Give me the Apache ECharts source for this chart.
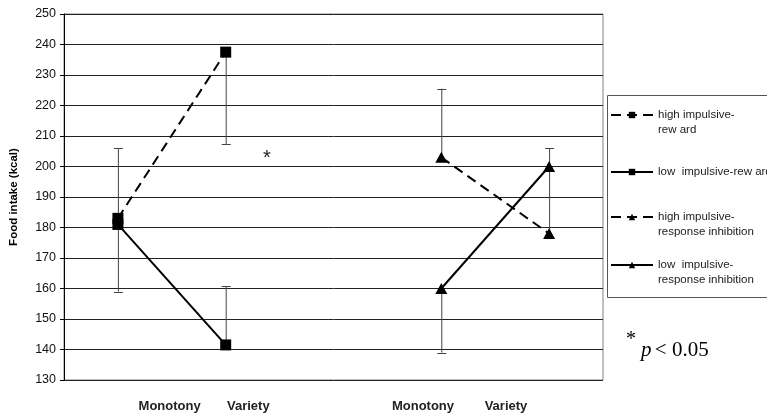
<!DOCTYPE html>
<html><head><meta charset="utf-8">
<script src="https://cdn.jsdelivr.net/npm/echarts@6/dist/echarts.min.js"></script>
<style>html,body{margin:0;padding:0;background:#fff}#c{width:767px;height:415px}</style>
</head><body><div id="c"></div>
<script>
// ---- data ----
const categories = ['Monotony-1', 'Variety-1', 'gap', 'Monotony-2', 'Variety-2'];
const xLabels = ['Monotony', 'Variety', 'Monotony', 'Variety'];
const yMin = 130, yMax = 250, yStep = 10;
const seriesNames = ['high impulsive-reward', 'low impulsive-reward', 'high impulsive-response inhibition', 'low impulsive-response inhibition'];
const hiReward = [183, 237.5, null, null, null];
const loReward = [181, 141.5, null, null, null];
const hiRI = [null, null, null, 203, 178];
const loRI = [null, null, null, 160, 200];
// one-sided error bar end values
const hiRewardErr = [206, 207.3, null, null, null];
const loRewardErr = [159, 160.8, null, null, null];
const hiRIErr = [null, null, null, 225.5, 206];
const loRIErr = [null, null, null, 139, null];

// ---- presentation ----
const legendText = {
  'high impulsive-reward': '\nhigh impulsive-\nrew ard',
  'low impulsive-reward': 'low  impulsive-rew ard',
  'high impulsive-response inhibition': '\nhigh impulsive-\nresponse inhibition',
  'low impulsive-response inhibition': '\nlow  impulsive-\nresponse inhibition'
};
const labelPos = [0.98, 1.71, 3.33, 4.1];

function errData(vals, ends) {
  const out = [];
  vals.forEach((v, i) => { if (v != null && ends[i] != null) out.push([i, v, ends[i]]); });
  return out;
}
function errRender(params, api) {
  const i = api.value(0), v = api.value(1), e = api.value(2);
  const p1 = api.coord([i, v]), p2 = api.coord([i, e]);
  const st = { stroke: '#444', lineWidth: 1 };
  return { type: 'group', children: [
    { type: 'line', shape: { x1: p1[0] + 0.5, y1: p1[1], x2: p2[0] + 0.5, y2: p2[1] }, style: st },
    { type: 'line', shape: { x1: p2[0] - 4, y1: Math.round(p2[1]) + 0.5, x2: p2[0] + 5, y2: Math.round(p2[1]) + 0.5 }, style: st }
  ]};
}
const errSeries = [[hiReward, hiRewardErr], [loReward, loRewardErr], [hiRI, hiRIErr], [loRI, loRIErr]].map(([v, e]) => ({
  type: 'custom', renderItem: errRender, data: errData(v, e), z: 1, silent: true,
  encode: { x: 0, y: [1, 2] }
}));

const dashed = [10, 6];
function lineSeries(name, data, symbol, size, dash) {
  return {
    name, type: 'line', data, symbol, symbolSize: size, z: 3,
    lineStyle: { color: '#000', width: 2, type: dash ? dashed : 'solid' },
    itemStyle: { color: '#000' }, connectNulls: false, animation: false
  };
}

const LH = 15;
const legendTargets = [115, 172, 217, 265];
const legends = seriesNames.map((n, k) => {
  const lines = legendText[n].split('\n').length;
  return {
    data: [n], left: 610, top: legendTargets[k] - lines * LH / 2, padding: 0,
    itemWidth: 42, itemHeight: 8, selectedMode: false,
    formatter: (name) => legendText[name],
    textStyle: { fontSize: 11.5, fontFamily: 'Arial', color: '#222', lineHeight: LH }
  };
});

const chart = echarts.init(document.getElementById('c'), null, { renderer: 'canvas' });
chart.setOption({
  animation: false,
  backgroundColor: '#fff',
  grid: { left: 61, right: 164, top: 14, bottom: 35, show: true, borderColor: '#808080', borderWidth: 1 },
  xAxis: [{
    type: 'category', data: categories, boundaryGap: true,
    axisLine: { show: false }, axisTick: { show: false }, axisLabel: { show: false }, splitLine: { show: false }
  }, {
    type: 'value', min: 0, max: 5, position: 'bottom', offset: 0,
    axisLine: { show: false }, axisTick: { show: false }, splitLine: { show: false },
    axisLabel: {
      customValues: labelPos, margin: 20,
      formatter: (v) => xLabels[labelPos.indexOf(v)] || '',
      fontSize: 13, fontWeight: 'bold', fontFamily: 'Arial', color: '#222'
    }
  }],
  yAxis: {
    type: 'value', min: yMin, max: yMax, interval: yStep,
    name: 'Food intake (kcal)', nameLocation: 'middle', nameGap: 44,
    nameTextStyle: { fontSize: 11.5, fontWeight: 'bold', fontFamily: 'Arial', color: '#000' },
    axisLine: { show: true, lineStyle: { color: '#000', width: 1 } },
    axisTick: { show: true, length: 4, lineStyle: { color: '#000' } },
    axisLabel: { fontSize: 12.5, fontFamily: 'Arial', color: '#111', margin: 8 },
    splitLine: { show: true, lineStyle: { color: '#222', width: 1 } }
  },
  legend: legends,
  graphic: [
    { type: 'rect', shape: { x: 607.5, y: 95.5, width: 200, height: 202 }, style: { fill: 'none', stroke: '#555', lineWidth: 1 }, z: 0 },
    { type: 'text', x: 267, y: 158, style: { text: '*', font: '20px Arial', fill: '#222', align: 'center', verticalAlign: 'middle' } },
    { type: 'text', x: 631, y: 340, style: { text: '*', font: '20px "Liberation Serif"', fill: '#000', align: 'center', verticalAlign: 'middle' } },
    { type: 'text', x: 641, y: 361, style: { text: '{p|p} {t|< 0.05}', verticalAlign: 'bottom', rich: {
      p: { font: 'italic 21px "Liberation Serif"', fill: '#000' },
      t: { font: '21px "Liberation Serif"', fill: '#000' } } } }
  ],
  series: [
    ...errSeries,
    lineSeries(seriesNames[0], hiReward, 'rect', 11, true),
    lineSeries(seriesNames[1], loReward, 'rect', 11, false),
    lineSeries(seriesNames[2], hiRI, 'triangle', [12, 11], true),
    lineSeries(seriesNames[3], loRI, 'triangle', [12, 11], false)
  ]
});
</script>
</body></html>
